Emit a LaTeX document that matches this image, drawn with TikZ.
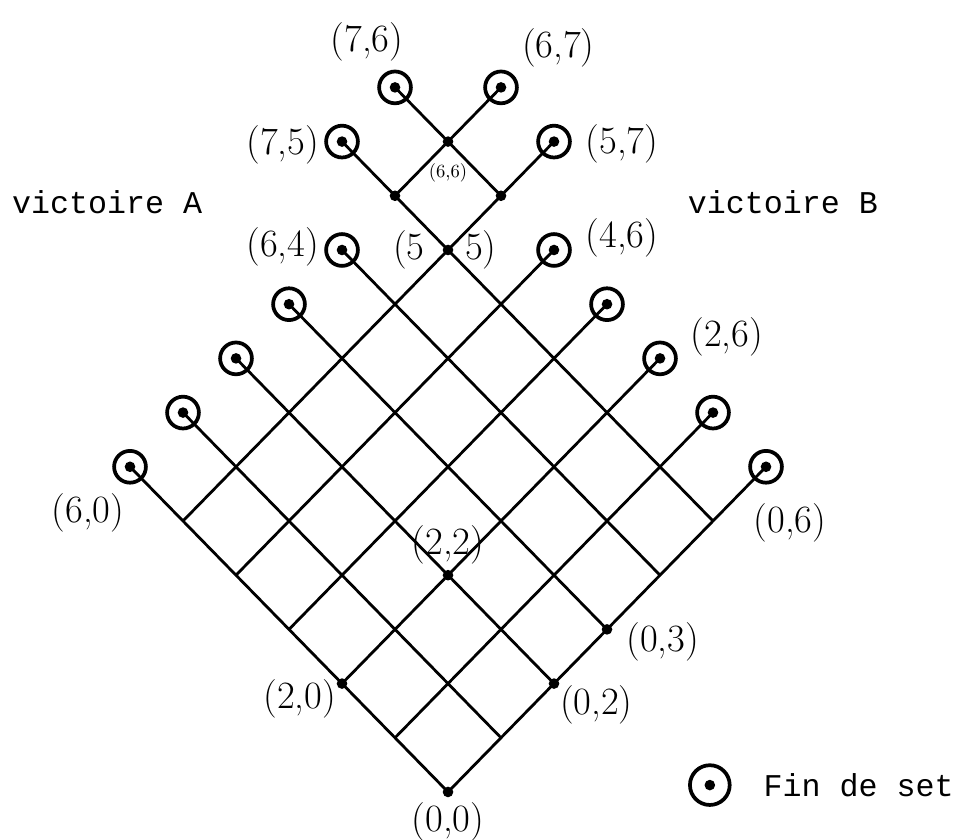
\documentclass[tikz,border=0pt]{standalone}
\usepackage{fontspec}
\setmonofont{Liberation Mono}
\usetikzlibrary{positioning}
\tikzset{
  dot/.style={circle, fill=black, inner sep=0pt, minimum size=2mm},
  fin/.style={circle, draw=black, line width=2pt, inner sep=0pt, minimum size=6mm,
    path picture={\fill[black] (path picture bounding box.center) circle (1mm);}},
  lbl/.style={inner sep=0pt, font=\huge},
  tt/.style={inner sep=0pt, font=\fontsize{17}{20}\selectfont\ttfamily},
  branch/.style={line width=1.5pt, line cap=round}
}
\begin{document}
\begin{tikzpicture}[x=1cm, y=1.0226cm]
    \useasboundingbox (-8.453cm,-0.906cm) rectangle (9.566cm,14.943cm);

    % grille des scores (a,b)
    \foreach \a in {0,...,5}
      \foreach \b in {0,...,5}
        \coordinate (p-\a-\b) at ({\b-\a},{\a+\b});
    \coordinate (p-6-5) at (-1,11);
    \coordinate (p-5-6) at (1,11);
    \coordinate (p-6-6) at (0,12);

    % fins de set
    \foreach \b in {0,...,4} {
      \node[fin] (f-6-\b) at ({\b-6},{6+\b}) {};
      \node[fin] (f-\b-6) at ({6-\b},{6+\b}) {};
    }
    \node[fin] (f-7-5) at (-2,12) {};
    \node[fin] (f-5-7) at (2,12) {};
    \node[fin] (f-7-6) at (-1,13) {};
    \node[fin] (f-6-7) at (1,13) {};

    % branches
    \foreach \i in {0,...,4} {
      \draw[branch] (p-0-\i) -- (f-6-\i.center);
      \draw[branch] (p-\i-0) -- (f-\i-6.center);
    }
    \draw[branch] (p-0-5) -- (f-7-5.center);
    \draw[branch] (p-5-0) -- (f-5-7.center);
    \draw[branch] (p-6-5) -- (f-6-7.center);
    \draw[branch] (p-5-6) -- (f-7-6.center);

    % points marques
    \foreach \a/\b in {0/0,2/0,0/2,2/2,0/3,5/5,6/5,5/6,6/6}
      \node[dot] (d-\a-\b) at (p-\a-\b) {};

    % scores
    \node[lbl, below=0.8mm of d-0-0] (l-0-0) {(0,0)};
    \node[lbl, above=1mm of d-2-2] (l-2-2) {(2,2)};
    \node[lbl, font=\normalsize, below=3mm of d-6-6] (l-6-6) {(6,6)};
    \node[lbl] (l-5a) at ([xshift=-7.4mm]d-5-5) {(5};
    \node[lbl] (l-5b) at ([xshift=6.2mm]d-5-5) {5)};
    \node[lbl] (l-2-0) at ([xshift=-8mm, yshift=-2.8mm]d-2-0) {(2,0)};
    \node[lbl] (l-0-2) at ([xshift=8mm, yshift=-4mm]d-0-2) {(0,2)};
    \node[lbl] (l-0-3) at ([xshift=10.5mm, yshift=-2.4mm]d-0-3) {(0,3)};
    \node[lbl] (l-6-0) at ([xshift=-7.9mm, yshift=-8.6mm]f-6-0) {(6,0)};
    \node[lbl] (l-0-6) at ([xshift=4.5mm, yshift=-10.5mm]f-0-6) {(0,6)};
    \node[lbl] (l-2-6) at ([xshift=12.6mm, yshift=4mm]f-2-6) {(2,6)};
    \node[lbl] (l-6-4) at ([xshift=-11.2mm, yshift=0.5mm]f-6-4) {(6,4)};
    \node[lbl] (l-4-6) at ([xshift=12.8mm, yshift=2.2mm]f-4-6) {(4,6)};
    \node[lbl] (l-7-5) at ([xshift=-11.2mm, yshift=-0.6mm]f-7-5) {(7,5)};
    \node[lbl] (l-5-7) at ([xshift=12.8mm, yshift=-0.4mm]f-5-7) {(5,7)};
    \node[lbl] (l-7-6) at ([xshift=-5.3mm, yshift=8.6mm]f-7-6) {(7,6)};
    \node[lbl] (l-6-7) at ([xshift=10.8mm, yshift=7.5mm]f-6-7) {(6,7)};

    % victoires et legende
    \node[tt] (vicA) at (-6.43,10.89) {victoire A};
    \node[tt] (vicB) at (6.32,10.89) {victoire B};
    \node[fin, minimum size=7.5mm] (leg) at (4.94,0.127) {};
    \node[tt, right=6mm of leg] (legtxt) {Fin de set};
\end{tikzpicture}
\end{document}
